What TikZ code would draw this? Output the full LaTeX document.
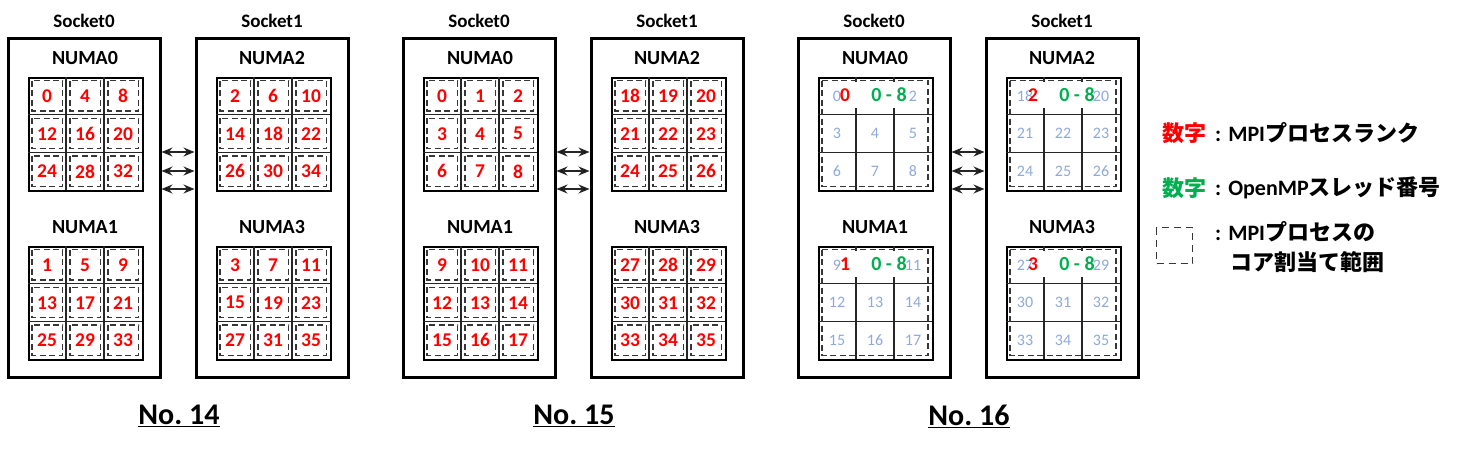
\documentclass[tikz,border=0pt]{standalone}
\usepackage{fontspec}
\setmainfont{Carlito}
\newfontfamily\cjk{Noto Sans CJK JP}
\usetikzlibrary{arrows.meta}
\definecolor{rd}{RGB}{255,0,0}
\definecolor{gn}{RGB}{0,176,80}
\definecolor{faint}{RGB}{142,169,219}
\definecolor{dashc}{RGB}{55,55,55}
\newcommand\myfs[1]{\fontsize{#1}{#1}\selectfont}
\begin{document}
\begin{tikzpicture}[x=1pt,y=-1pt,
  socketbox/.style={draw, line width=3pt, inner sep=0, minimum width=152pt, minimum height=339pt},
  gridbox/.style={draw, line width=2.2pt, inner sep=0, minimum width=114pt, minimum height=113pt, anchor=north west},
  cellline/.style={line width=1.3pt, draw=black!85},
  dashbox/.style={draw=dashc, line width=1.3pt, dash pattern=on 6pt off 3.5pt},
  lbl/.style={font=\bfseries\myfs{19}, inner sep=0},
  numalbl/.style={font=\bfseries\myfs{20}, inner sep=0},
  rank/.style={font=\bfseries\myfs{19.5}, text=rd, inner sep=0},
  thr/.style={font=\bfseries\myfs{20}, text=gn, inner sep=0},
  faintnum/.style={font=\myfs{16}, text=faint, inner sep=0},
  title/.style={font=\bfseries\myfs{30}, inner sep=0},
  link/.style={line width=1.4pt, draw=black!85, {Stealth[length=11pt,width=9pt,fill=black]}-{Stealth[length=11pt,width=9pt,fill=black]}},
  legtxt/.style={font=\bfseries\myfs{22}, inner sep=0, anchor=west},
  legkey/.style={font=\cjk\bfseries\myfs{22}, inner sep=0, anchor=west}
]
\useasboundingbox (0,0) rectangle (1460,450);

\foreach \ox/\pn/\nlabel in {0/1/14, 395/2/15, 790/3/16} {
  % sockets
  \node[socketbox] (sa\pn) at ({\ox+84},207.5) {};
  \node[socketbox] (sb\pn) at ({\ox+272},207.5) {};
  \node[lbl] (sla\pn) at ({\ox+84},21) {Socket0};
  \node[lbl] (slb\pn) at ({\ox+272},21) {Socket1};
  \node[numalbl] (na\pn) at ({\ox+85},58) {NUMA0};
  \node[numalbl] (nb\pn) at ({\ox+85},227) {NUMA1};
  \node[numalbl] (nc\pn) at ({\ox+272},58) {NUMA2};
  \node[numalbl] (nd\pn) at ({\ox+272},227) {NUMA3};
  % links
  \foreach \ay/\an in {152/1,171/2,189/3} {
    \coordinate (la\pn\an) at ({\ox+161.5},\ay);
    \coordinate (lb\pn\an) at ({\ox+194.5},\ay);
    \draw[link] (la\pn\an) -- (lb\pn\an);
  }
  \node[title] (t\pn) at ({\ox+179},416) {\underline{No.\ \nlabel}};
  % grids
  \foreach \m/\gx/\gy in {0/28/77,1/28/246,2/216/77,3/216/246} {
    \pgfmathsetmacro\X{\ox+\gx}
    \node[gridbox] (g\pn\m) at (\X,\gy) {};
    \draw[cellline] ({\X+38},\gy) -- ({\X+38},{\gy+113});
    \draw[cellline] ({\X+76},\gy) -- ({\X+76},{\gy+113});
    \draw[cellline] (\X,{\gy+37.7}) -- ({\X+114},{\gy+37.7});
    \draw[cellline] (\X,{\gy+75.3}) -- ({\X+114},{\gy+75.3});
    \ifnum\pn<3
      \foreach \r in {0,1,2} {
        \foreach \c in {0,1,2} {
          \draw[dashbox] ({\X+38*\c+4},{\gy+37.7*\r+3.5}) rectangle ({\X+38*\c+34.5},{\gy+37.7*\r+34});
          \ifnum\pn=1
            \pgfmathtruncatemacro\N{4*(3*\r+\c)+\m}
          \else
            \pgfmathtruncatemacro\N{9*\m+3*\r+\c}
          \fi
          \node[rank] (c\pn\m\r\c) at ({\X+38*\c+19},{\gy+37.7*\r+19}) {\N};
        }
      }
    \else
      \fill[white] ({\X+3},{\gy+5}) rectangle ({\X+111},{\gy+31});
      \foreach \r in {1,2} {
        \foreach \c in {0,1,2} {
          \pgfmathtruncatemacro\N{9*\m+3*\r+\c}
          \node[faintnum] (c\pn\m\r\c) at ({\X+38*\c+19},{\gy+37.7*\r+19}) {\N};
        }
      }
      \pgfmathtruncatemacro\Na{9*\m}
      \pgfmathtruncatemacro\Nb{9*\m+2}
      \node[faintnum] (c\pn\m00) at ({\X+19},{\gy+19}) {\Na};
      \node[faintnum] (c\pn\m02) at ({\X+95},{\gy+19}) {\Nb};
      \draw[dashbox] ({\X+4},{\gy+3.5}) rectangle ({\X+110},{\gy+109.5});
      \node[rank] (r\pn\m) at ({\X+27},{\gy+18}) {\m};
      \node[thr] (h\pn\m) at ({\X+71},{\gy+18}) {0 - 8};
    \fi
  }
}

% legend
\node[legkey, text=rd] (k1) at (1162,133) {数字};
\node[legtxt] (k1t) at (1215,133) {:\hspace{7pt}MPI{\cjk プロセスランク}};
\node[legkey, text=gn] (k2) at (1162,188) {数字};
\node[legtxt] (k2t) at (1215,188) {:\hspace{7pt}OpenMP{\cjk スレッド番号}};
\node[draw=dashc, line width=1.3pt, dash pattern=on 7pt off 5pt, inner sep=0, minimum width=36pt, minimum height=36pt] (k3) at (1174.5,245.5) {};
\node[legtxt] (k3t) at (1215,232) {:\hspace{7pt}MPI{\cjk プロセスの}};
\node[legtxt] (k3u) at (1230,262) {{\cjk コア割当て範囲}};
\end{tikzpicture}
\end{document}
